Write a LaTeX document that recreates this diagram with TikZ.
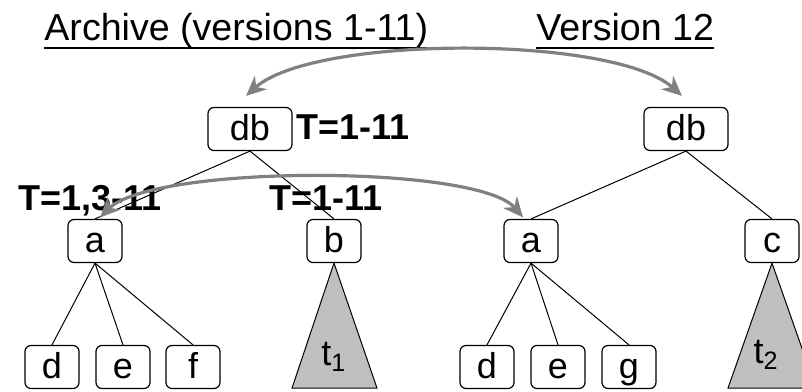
\documentclass[tikz,border=0pt]{standalone}
\usepackage{fontspec}
\setmainfont{Liberation Sans}
\usetikzlibrary{arrows.meta}

\begin{document}
\begin{tikzpicture}[x=0.5pt,y=-0.5pt,font=\fontsize{18}{20}\selectfont,
   box/.style={draw,rounded corners=3pt,line width=0.6pt,minimum width=27pt,minimum height=21.5pt,inner sep=0pt,text height=13pt,text depth=2pt},
   lbl/.style={inner sep=0pt,anchor=base west,font=\fontsize{18}{20}\selectfont\bfseries},
   ttl/.style={inner sep=0pt,anchor=base west,font=\fontsize{18.8}{20}\selectfont},
   ln/.style={line width=0.5pt},
   cmp/.style={{Stealth[length=10pt,width=9pt]}-{Stealth[length=10pt,width=9pt]},line width=1.6pt,black!50},
   tri/.style={draw,fill=gray!50,line width=0.5pt}]
\useasboundingbox (0,0) rectangle (802,391);
\clip (0,0) rectangle (802,391);
% titles
\node[ttl] (arch) at (44,40) {Archive (versions 1-11)};
\node[ttl] (cur) at (536,40) {Version 12};
\draw[line width=1.2pt] ([yshift=-4pt]arch.base west) -- ([yshift=-4pt]arch.base east);
\draw[line width=1.2pt] ([yshift=-4pt]cur.base west) -- ([yshift=-4pt]cur.base east);
% roots
\node[box,minimum width=42pt] (dbL) at (250,129) {db};
\node[box,minimum width=42pt] (dbR) at (686,129) {db};
\node[lbl] (tR) at (296,139) {T=1-11};
% second level
\node[box] (aL) at (95,241) {a};
\node[box] (b) at (334,241) {b};
\node[box] (aR) at (531,241) {a};
\node[box] (c) at (772,241) {c};
\node[lbl] (tA) at (18,210) {T=1,3-11};
\node[lbl] (tB) at (269,210) {T=1-11};
\draw[ln] (dbL.south) -- (aL.north);
\draw[ln] (dbL.south) -- (b.north);
\draw[ln] (dbR.south) -- (aR.north);
\draw[ln] (dbR.south) -- (c.north);
% leaves
\foreach \n/\x/\l in {dL/52/d,eL/123/e,fL/193/f} {
   \node[box] (\n) at (\x,367) {\l};
   \draw[ln] (aL.south) -- (\n.north);
}
\foreach \n/\x/\l in {dR/487/d,eR/558/e,gR/629/g} {
   \node[box] (\n) at (\x,367) {\l};
   \draw[ln] (aR.south) -- (\n.north);
}
% subtrees
\draw[tri] (b.south) -- ++(-42,125) -- ++(85,0) -- cycle;
\node (t1) at (334,357) {t\textsubscript{1}};
\draw[tri] (c.south) -- ++(-44,125) -- ++(88,0) -- cycle;
\node (t2) at (766,355) {t\textsubscript{2}};
% correspondences
\coordinate (cL) at ([xshift=-2pt,yshift=5.5pt]dbL.north);
\coordinate (cR) at ([xshift=-2pt,yshift=5.5pt]dbR.north);
\draw[cmp] (cL) .. controls +(68,-61) and +(-68,-61) .. (cR);
\coordinate (cA) at ([xshift=2.5pt,yshift=0.75pt]aL.north);
\coordinate (cB) at ([xshift=-4pt,yshift=0.75pt]aR.north);
\draw[cmp] (cA) .. controls +(53,-53) and +(-45,-53) .. (cB);
\end{tikzpicture}
\end{document}
